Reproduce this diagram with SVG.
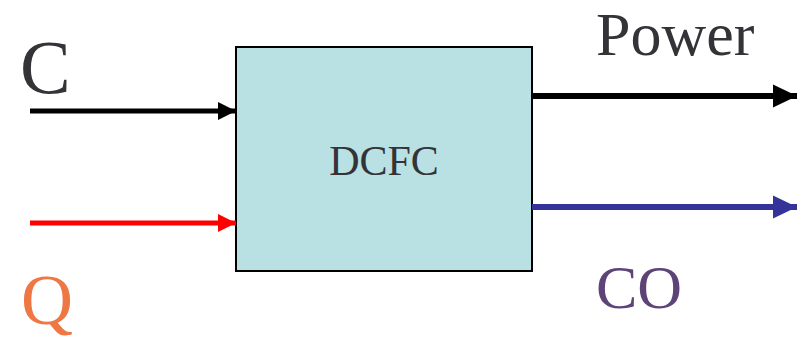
<svg xmlns="http://www.w3.org/2000/svg" width="804" height="343" viewBox="0 0 804 343">
<style>
text{font-family:"Liberation Serif","Times New Roman",serif}
.blk{fill:#333338}
</style>
<defs>
<marker id="ab" markerUnits="userSpaceOnUse" markerWidth="20" markerHeight="20" viewBox="0 0 20 20" refX="18" refY="10" orient="auto"><path d="M0,1 L18,10 L0,19 Z" fill="#000"/></marker>
<marker id="ar" markerUnits="userSpaceOnUse" markerWidth="20" markerHeight="20" viewBox="0 0 20 20" refX="18" refY="10" orient="auto"><path d="M0,1 L18,10 L0,19 Z" fill="#ff0000"/></marker>
<marker id="abig" markerUnits="userSpaceOnUse" markerWidth="26" markerHeight="26" viewBox="0 0 26 26" refX="24" refY="13" orient="auto"><path d="M0,1.5 L24,13 L0,24.5 Z" fill="#000"/></marker>
<marker id="abl" markerUnits="userSpaceOnUse" markerWidth="26" markerHeight="26" viewBox="0 0 26 26" refX="24" refY="13" orient="auto"><path d="M0,1.5 L24,13 L0,24.5 Z" fill="#333399"/></marker>
</defs>
<rect width="804" height="343" fill="#fff"/>
<g id="dcfc">
<rect x="236" y="47" width="296" height="224" fill="#b9e0e3" stroke="#000" stroke-width="2"/>
<text x="384" y="175" font-size="42" text-anchor="middle" class="blk">DCFC</text>
</g>
<g id="connectors">
<line x1="30" y1="111" x2="236" y2="111" stroke="#000" stroke-width="5" marker-end="url(#ab)"/>
<line x1="30" y1="223" x2="236" y2="223" stroke="#ff0000" stroke-width="5" marker-end="url(#ar)"/>
<line x1="532" y1="96" x2="797" y2="96" stroke="#000" stroke-width="6" marker-end="url(#abig)"/>
<line x1="532" y1="207" x2="797" y2="207" stroke="#333399" stroke-width="6" marker-end="url(#abl)"/>
</g>
<g id="labels">
<text x="20" y="93" font-size="76" class="blk">C</text>
<text x="21" y="324" font-size="72" fill="#ee7744">Q</text>
<text x="596" y="55" font-size="62" class="blk">Power</text>
<text x="596" y="308" font-size="62" fill="#5e4378">CO</text>
</g>
</svg>
